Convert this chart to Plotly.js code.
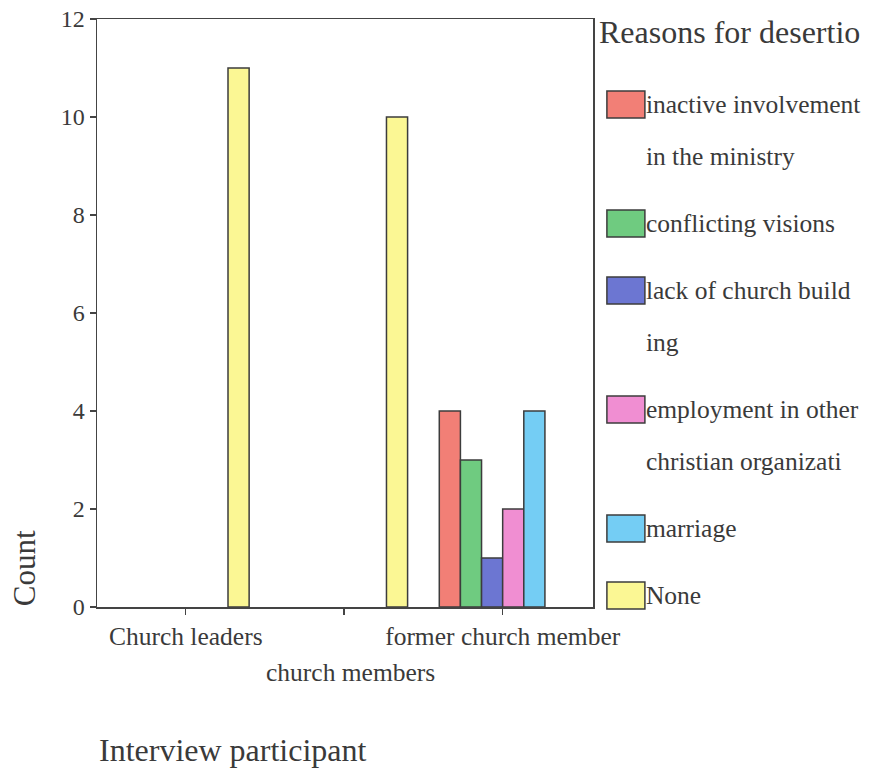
<!DOCTYPE html>
<html><head><meta charset="utf-8">
<script src="https://cdn.plot.ly/plotly-3.0.1.min.js"></script>
<style>html,body{margin:0;padding:0;background:#fff}</style>
</head><body>
<div id="chart" style="width:875px;height:770px"></div>
<script>
// ---- data ----
const categories = ["Church leaders", "church members", "former church member"];
const tickLabels = ["Church leaders", "", "former church member"];
const legendTitle = "Reasons for desertio";
const reasonNames = [
  "inactive involvement<br>in the ministry",
  "conflicting visions",
  "lack of church build<br>ing",
  "employment in other<br>christian organizati",
  "marriage",
  "None"
];
// counts per category (null = no bar in that category)
const inactiveInvolvement = [null, null, 4];
const conflictingVisions = [null, null, 3];
const lackOfChurchBuilding = [null, null, 1];
const employmentOther = [null, null, 2];
const marriage = [null, null, 4];
const none = [11, 10, null];
const reasonColors = ["#F27F76", "#6FCB80", "#6C76D2", "#F08ED2", "#74CDF4", "#FBF794"];

const series = [inactiveInvolvement, conflictingVisions, lackOfChurchBuilding, employmentOther, marriage, none];
const FONT = "'Liberation Serif', 'Times New Roman', serif";
const TXT = "#3a3a3a";

const traces = series.map((vals, i) => ({
  type: "bar",
  x: categories,
  y: vals,
  name: '<span style="font-size:25.5px">' + reasonNames[i] + '</span>',
  legendgroup: "g" + i,
  marker: {color: reasonColors[i], line: {color: "#3c3c3c", width: 1.5}},
  hoverinfo: "skip"
}));

const layout = {
  width: 875, height: 770,
  margin: {l: 97, r: 282, t: 19, b: 163, autoexpand: false},
  paper_bgcolor: "#fff", plot_bgcolor: "#fff",
  barmode: "group", bargap: 0.2, bargroupgap: 0,
  font: {family: FONT, color: TXT},
  xaxis: {
    type: "category",
    range: [-0.56, 2.57],
    tickmode: "array", tickvals: categories, ticktext: tickLabels,
    ticks: "outside", ticklen: 6, tickcolor: "#444", tickwidth: 1.5,
    showline: true, linecolor: "#444", linewidth: 1.5, mirror: true,
    showgrid: false, zeroline: false,
    tickfont: {family: FONT, size: 25.5, color: TXT}
  },
  yaxis: {
    range: [0, 12], dtick: 2,
    ticks: "outside", ticklen: 6, tickcolor: "#444", tickwidth: 1.5,
    showline: true, linecolor: "#444", linewidth: 1.5, mirror: true,
    showgrid: false, zeroline: false,
    tickfont: {family: FONT, size: 24, color: TXT}
  },
  showlegend: true,
  legend: {
    x: 1.026, xanchor: "left", y: 0.922, yanchor: "top",
    bgcolor: "rgba(0,0,0,0)", borderwidth: 0,
    font: {family: FONT, size: 40, color: TXT},
    valign: "top",
    tracegroupgap: 12,
    traceorder: "grouped"
  },
  annotations: [
    {text: categories[1], xref: "x", x: categories[1], xshift: 6,
     yref: "paper", y: -0.112, yanchor: "middle", showarrow: false,
     font: {family: FONT, size: 25.5, color: TXT}},
    {text: legendTitle, xref: "paper", x: 1.008, xanchor: "left",
     yref: "paper", y: 0.9779, yanchor: "middle", showarrow: false,
     font: {family: FONT, size: 32, color: TXT}},
    {text: "Interview participant", xref: "paper", x: 0, xanchor: "left",
     yref: "paper", y: -0.243, yanchor: "middle", showarrow: false,
     font: {family: FONT, size: 32, color: TXT}},
    {text: "Count", xref: "paper", x: -0.147, xanchor: "center",
     yref: "paper", y: 0.066, yanchor: "middle", textangle: -90, showarrow: false,
     font: {family: FONT, size: 31, color: TXT}}
  ]
};

Plotly.newPlot("chart", traces, layout, {displayModeBar: false, staticPlot: true}).then(gd => {
  // enlarge legend swatches and align each with the first line of its label
  gd.querySelectorAll(".legend g.traces").forEach(item => {
    const p = item.querySelector("g.legendpoints path");
    if (!p) return;
    p.setAttribute("d", "M19,13.5H-19V-13.5H19Z");
    const line = item.querySelector("text.legendtext tspan.line") || item.querySelector("text.legendtext");
    if (!line) return;
    const lr = line.getBoundingClientRect();
    const pr = p.getBoundingClientRect();
    const dy = (lr.top + lr.height / 2) - (pr.top + pr.height / 2);
    p.setAttribute("d", "M19," + (13.5 + dy) + "H-19V" + (-13.5 + dy) + "H19Z");
  });
});
</script>
</body></html>
